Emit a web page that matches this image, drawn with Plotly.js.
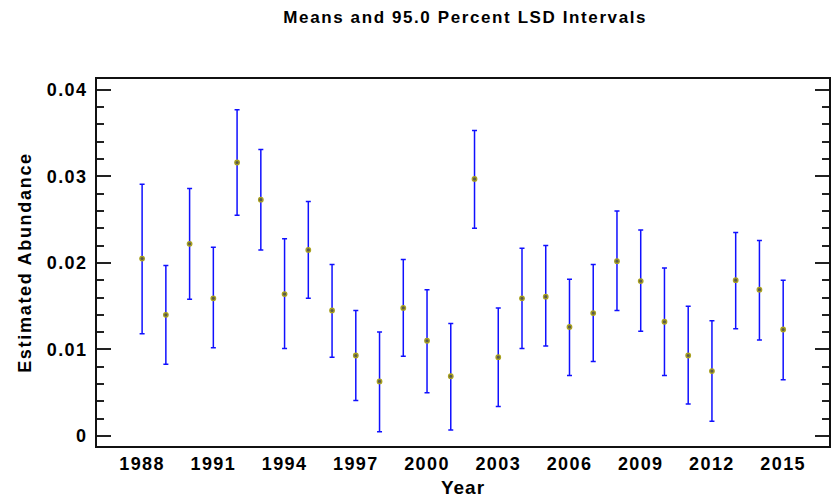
<!DOCTYPE html>
<html>
<head>
<meta charset="utf-8">
<script src="https://cdn.plot.ly/plotly-3.0.1.min.js"></script>
<style>
  html, body { margin: 0; padding: 0; background: #ffffff; }
  #chart { width: 833px; height: 501px; }
  /* slightly wider lettering for all chart text */
  #chart .gtitle { letter-spacing: 1.6px; }
  #chart .xtick text, #chart .ytick text { letter-spacing: 1.4px; }
  #chart .ytitle { letter-spacing: 1.7px; }
  #chart .xtitle { letter-spacing: 1px; }
</style>
</head>
<body>
<div id="chart"></div>
<script>
// Sampling years
const years = [1988, 1989, 1990, 1991, 1992, 1993, 1994, 1995, 1996, 1997,
               1998, 1999, 2000, 2001, 2002, 2003, 2004, 2005, 2006, 2007,
               2008, 2009, 2010, 2011, 2012, 2013, 2014, 2015];

// Estimated mean abundance per year
const means = [0.0205, 0.0140, 0.0222, 0.0159, 0.0316, 0.0273, 0.0164, 0.0215,
               0.0145, 0.0093, 0.0063, 0.0148, 0.0110, 0.0069, 0.0297, 0.0091,
               0.0159, 0.0161, 0.0126, 0.0142, 0.0202, 0.0179, 0.0132, 0.0093,
               0.0075, 0.0180, 0.0169, 0.0123];

// Lower and upper limits of the 95% LSD intervals
const lower = [0.0118, 0.0083, 0.0158, 0.0102, 0.0255, 0.0215, 0.0101, 0.0159,
               0.0091, 0.0041, 0.0005, 0.0092, 0.0050, 0.0007, 0.0240, 0.0034,
               0.0101, 0.0104, 0.0070, 0.0086, 0.0145, 0.0121, 0.0070, 0.0037,
               0.0017, 0.0124, 0.0111, 0.0065];
const upper = [0.0291, 0.0197, 0.0286, 0.0218, 0.0377, 0.0331, 0.0228, 0.0271,
               0.0198, 0.0145, 0.0120, 0.0204, 0.0169, 0.0130, 0.0353, 0.0148,
               0.0217, 0.0220, 0.0181, 0.0198, 0.0260, 0.0238, 0.0194, 0.0150,
               0.0133, 0.0235, 0.0226, 0.0180];

// Year labels shown on the horizontal axis
const yearTicks = [1988, 1991, 1994, 1997, 2000, 2003, 2006, 2009, 2012, 2015];
const abundanceTicks = [0, 0.01, 0.02, 0.03, 0.04];

const font = 'Arial, "Liberation Sans", sans-serif';

const trace = {
  type: 'scatter',
  mode: 'markers',
  x: years,
  y: means,
  marker: {
    symbol: 'circle',
    size: 4.5,
    color: '#5a5a4a',
    line: { color: '#aaa220', width: 1.3 }
  },
  error_y: {
    type: 'data',
    symmetric: false,
    array: upper.map((u, i) => u - means[i]),
    arrayminus: means.map((m, i) => m - lower[i]),
    color: '#1010ff',
    thickness: 1.5,
    width: 2.5
  },
  hoverinfo: 'x+y'
};

const layout = {
  width: 833,
  height: 501,
  paper_bgcolor: '#ffffff',
  plot_bgcolor: '#ffffff',
  margin: { l: 97, r: 4, t: 79, b: 55 },
  showlegend: false,
  font: { family: font, color: '#000000' },
  title: {
    text: 'Means and 95.0 Percent LSD Intervals',
    font: { family: font, size: 17, weight: 'bold', color: '#000000' },
    x: 0.5585,
    xanchor: 'center',
    y: 0.966,
    yanchor: 'middle'
  },
  xaxis: {
    range: [1986.1, 2016.93],
    tickmode: 'array',
    tickvals: yearTicks,
    ticktext: yearTicks.map(String),
    ticks: '',
    showgrid: false,
    zeroline: false,
    showline: true,
    linecolor: '#111111',
    linewidth: 2,
    mirror: true,
    tickfont: { family: font, size: 18, weight: 'bold', color: '#000000' },
    title: {
      text: 'Year',
      font: { family: font, size: 19, weight: 'bold', color: '#000000' },
      standoff: 8
    }
  },
  yaxis: {
    range: [-0.00116, 0.04125],
    tickmode: 'array',
    tickvals: abundanceTicks,
    ticktext: abundanceTicks.map(String),
    ticks: 'inside',
    ticklen: 14,
    tickwidth: 2,
    tickcolor: '#222222',
    minor: {
      dtick: 0.002,
      tick0: 0,
      ticks: 'inside',
      ticklen: 7,
      tickwidth: 2,
      tickcolor: '#222222'
    },
    showgrid: false,
    zeroline: false,
    showline: true,
    linecolor: '#111111',
    linewidth: 2,
    mirror: 'allticks',
    tickfont: { family: font, size: 18, weight: 'bold', color: '#000000' },
    ticklabelstandoff: 4,
    title: {
      text: 'Estimated Abundance',
      font: { family: font, size: 18, weight: 'bold', color: '#000000' },
      standoff: 16
    }
  }
};

Plotly.newPlot('chart', [trace], layout, { displayModeBar: false, staticPlot: true });
</script>
</body>
</html>
